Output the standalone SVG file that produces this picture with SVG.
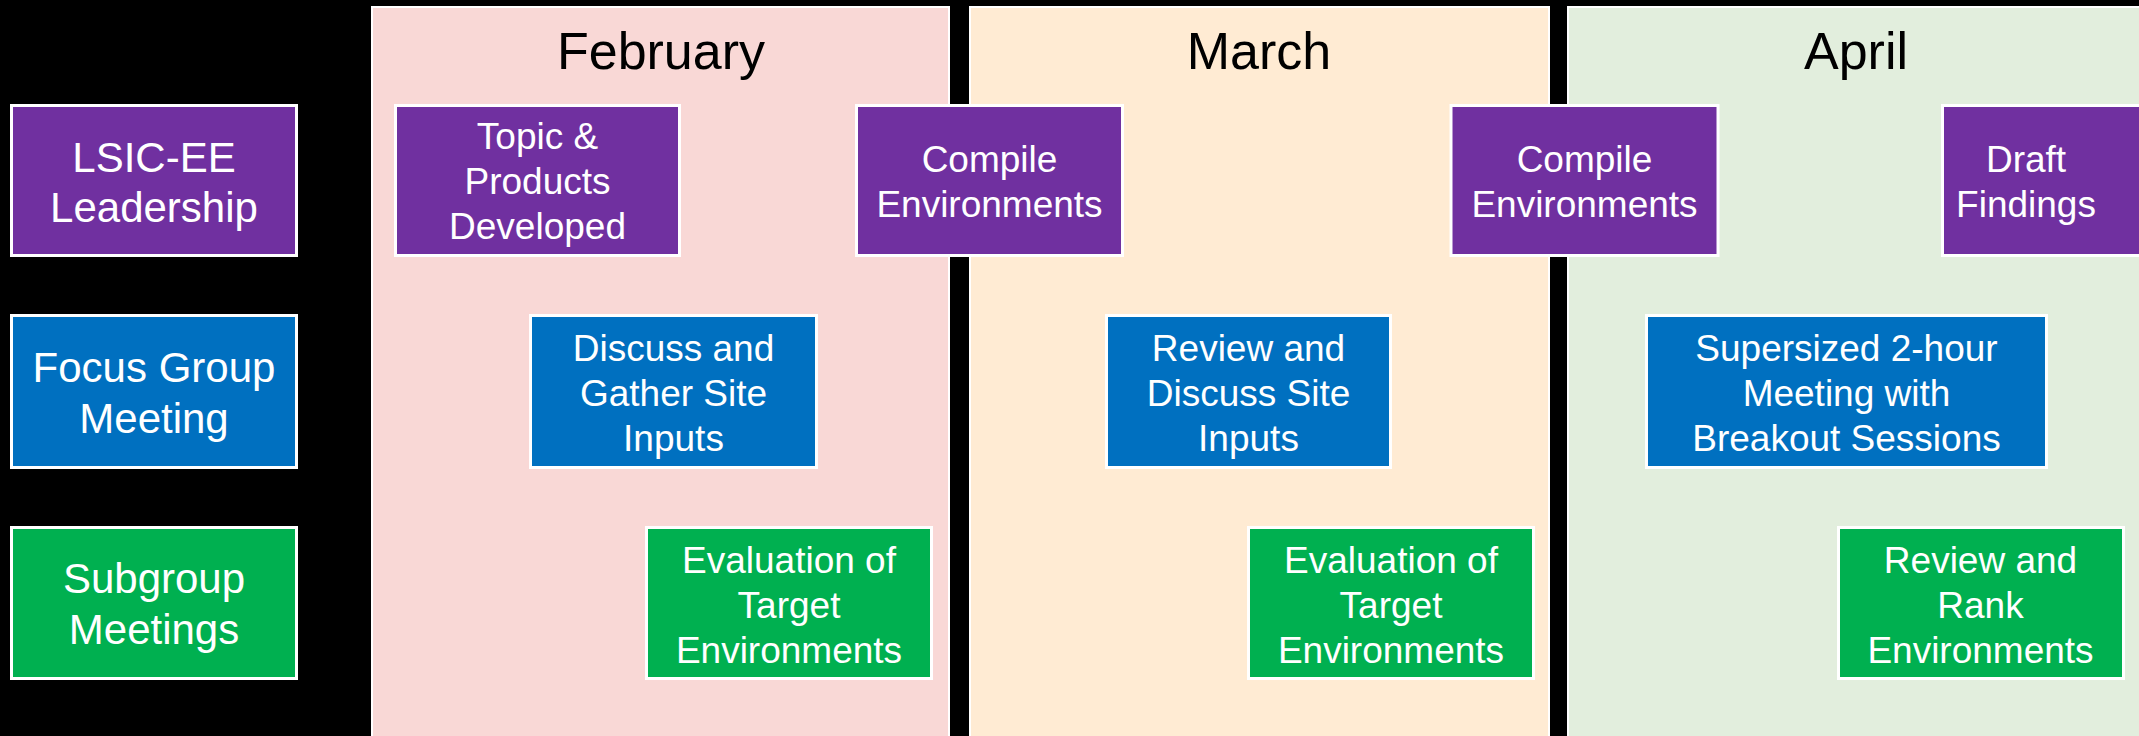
<svg xmlns="http://www.w3.org/2000/svg" width="2139" height="736" viewBox="0 0 2139 736">
<style>
.panel{stroke:#ffffff;stroke-width:2}
.box{stroke:#ffffff;stroke-width:3}
.purple{fill:#7030A0}
.blue{fill:#0070C0}
.green{fill:#00B050}
.month{font-family:"Liberation Sans",Arial,sans-serif;font-size:52px;fill:#000000;text-anchor:middle}
.lbl{font-family:"Liberation Sans",Arial,sans-serif;font-size:42px;fill:#ffffff;text-anchor:middle}
.t{font-family:"Liberation Sans",Arial,sans-serif;font-size:37px;fill:#ffffff;text-anchor:middle}
</style>
<rect x="0" y="0" width="2139" height="736" fill="#000000"/>
<g id="panels">
<g id="feb"><rect class="panel" x="372" y="7" width="577" height="740" fill="#F9D8D6"/><text class="month" x="661" y="69">February</text></g>
<g id="mar"><rect class="panel" x="970" y="7" width="579" height="740" fill="#FFEBD3"/><text class="month" x="1259" y="69">March</text></g>
<g id="apr"><rect class="panel" x="1568" y="7" width="590" height="740" fill="#E2EEDD"/><text class="month" x="1856" y="69">April</text></g>
</g>
<g id="connectors"></g>
<g id="leadership"><rect class="box purple" x="11.5" y="105.5" width="285" height="150"/><text class="lbl" x="154" y="172">LSIC-EE</text><text class="lbl" x="154" y="222">Leadership</text></g>
<g id="focus"><rect class="box blue" x="11.5" y="315.5" width="285" height="152"/><text class="lbl" x="154" y="382">Focus Group</text><text class="lbl" x="154" y="433">Meeting</text></g>
<g id="subgroup"><rect class="box green" x="11.5" y="527.5" width="285" height="151"/><text class="lbl" x="154" y="593">Subgroup</text><text class="lbl" x="154" y="644">Meetings</text></g>
<g id="topic"><rect class="box purple" x="395.5" y="105.5" width="284" height="150"/><text class="t" x="537.5" y="149">Topic &amp;</text><text class="t" x="537.5" y="194">Products</text><text class="t" x="537.5" y="239">Developed</text></g>
<g id="compile1"><rect class="box purple" x="856.5" y="105.5" width="266" height="150"/><text class="t" x="989.5" y="172">Compile</text><text class="t" x="989.5" y="217">Environments</text></g>
<g id="compile2"><rect class="box purple" x="1451" y="105.5" width="267" height="150"/><text class="t" x="1584.5" y="172">Compile</text><text class="t" x="1584.5" y="217">Environments</text></g>
<g id="draft"><rect class="box purple" x="1942.5" y="105.5" width="220" height="150"/><text class="t" x="2026" y="172">Draft</text><text class="t" x="2026" y="217">Findings</text></g>
<g id="discuss"><rect class="box blue" x="530.5" y="315.5" width="286" height="152"/><text class="t" x="673.5" y="361">Discuss and</text><text class="t" x="673.5" y="406">Gather Site</text><text class="t" x="673.5" y="451">Inputs</text></g>
<g id="review"><rect class="box blue" x="1106.5" y="315.5" width="284" height="152"/><text class="t" x="1248.5" y="361">Review and</text><text class="t" x="1248.5" y="406">Discuss Site</text><text class="t" x="1248.5" y="451">Inputs</text></g>
<g id="supersized"><rect class="box blue" x="1646.5" y="315.5" width="400" height="152"/><text class="t" x="1846.5" y="361">Supersized 2-hour</text><text class="t" x="1846.5" y="406">Meeting with</text><text class="t" x="1846.5" y="451">Breakout Sessions</text></g>
<g id="eval1"><rect class="box green" x="646.5" y="527.5" width="285" height="151"/><text class="t" x="789" y="573">Evaluation of</text><text class="t" x="789" y="618">Target</text><text class="t" x="789" y="663">Environments</text></g>
<g id="eval2"><rect class="box green" x="1248.5" y="527.5" width="285" height="151"/><text class="t" x="1391" y="573">Evaluation of</text><text class="t" x="1391" y="618">Target</text><text class="t" x="1391" y="663">Environments</text></g>
<g id="rank"><rect class="box green" x="1838.5" y="527.5" width="285" height="151"/><text class="t" x="1980.5" y="573">Review and</text><text class="t" x="1980.5" y="618">Rank</text><text class="t" x="1980.5" y="663">Environments</text></g>
</svg>
